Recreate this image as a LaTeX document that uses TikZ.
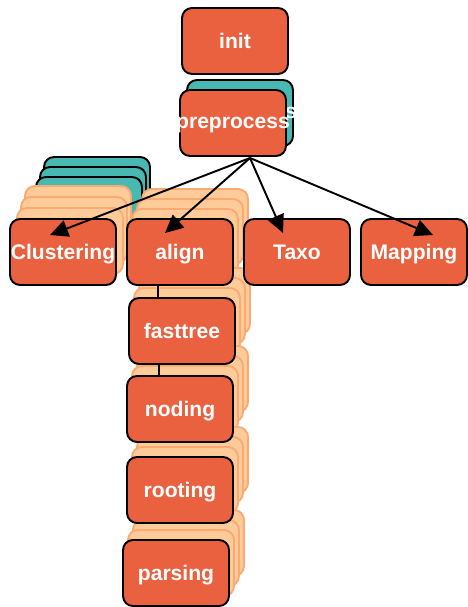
\documentclass[tikz,border=0pt]{standalone}
\usepackage{fontspec}
\setmainfont{Liberation Sans}
\usetikzlibrary{arrows.meta}
\definecolor{jobred}{RGB}{233,97,63}
\definecolor{jobteal}{RGB}{72,184,178}
\definecolor{jobpeach}{RGB}{255,204,153}
\definecolor{jobpeachline}{RGB}{252,170,115}

\begin{document}
\begin{tikzpicture}[x=0.02cm, y=-0.02cm,
    job/.style={rectangle, draw=black, line width=1.1pt, fill=jobred,
        minimum width=2.12cm, minimum height=1.32cm, rounded corners=0.2cm,
        inner sep=0pt, text depth=0pt, text=white,
        font=\bfseries\fontsize{12}{14}\selectfont},
    tealjob/.style={job, fill=jobteal},
    ghostjob/.style={job, fill=jobpeach, draw=jobpeachline},
    arr/.style={-{Triangle[length=0.36cm, width=0.34cm]}, line width=1.1pt}
]
    \useasboundingbox (0,0) rectangle (467,607);

    % stacked jobs behind
    \node[tealjob] (prepbg) at (240,113) {\makebox[0pt]{preprocess}};
    \foreach \k in {3,2,1}
        \node[tealjob] (clustteal\k) at ({85+4*\k},{220-10*\k}) {};
    \foreach \k in {3,2,1}
        \node[ghostjob] (clustghost\k) at ({66+4*\k},{252-11*\k}) {};
    \foreach \name/\cx/\cy in {align/180/252, fasttree/182/331, noding/180/409,
                               rooting/180/490, parsing/176/573}
        \foreach \k in {3,2,1}
            \node[ghostjob] (\name ghost\k) at ({\cx+5*\k},{\cy-10*\k}) {};

    % front jobs
    \node[job] (init) at (235,41) {init};
    \node[job] (prep) at (233,123) {\makebox[0pt]{preprocess}};
    \node[job] (clust) at (63,252) {Clustering};
    \node[job] (align) at (180,252) {align};
    \node[job] (taxo) at (297,252) {Taxo};
    \node[job] (mapping) at (414,252) {Mapping};
    \node[job] (fasttree) at (182,331) {fasttree};
    \node[job] (noding) at (180,409) {noding};
    \node[job] (rooting) at (180,490) {rooting};
    \node[job] (parsing) at (176,573) {parsing};

    % fan out from preprocess
    \coordinate (fork) at (250,158);
    \coordinate (clusttip) at (50,235);
    \coordinate (aligntip) at (165,233);
    \coordinate (taxotip) at (283,233);
    \coordinate (mappingtip) at (433,235);
    \draw[arr] (fork) -- (clusttip);
    \draw[arr] (fork) -- (aligntip);
    \draw[arr] (fork) -- (taxotip);
    \draw[arr] (fork) -- (mappingtip);

    \draw[line width=1.1pt] ([xshift=-0.44cm]align.south) -- ([xshift=-0.48cm]fasttree.north);
    \draw[line width=1.1pt] ([xshift=-0.46cm]fasttree.south) -- ([xshift=-0.42cm]noding.north);
\end{tikzpicture}
\end{document}
